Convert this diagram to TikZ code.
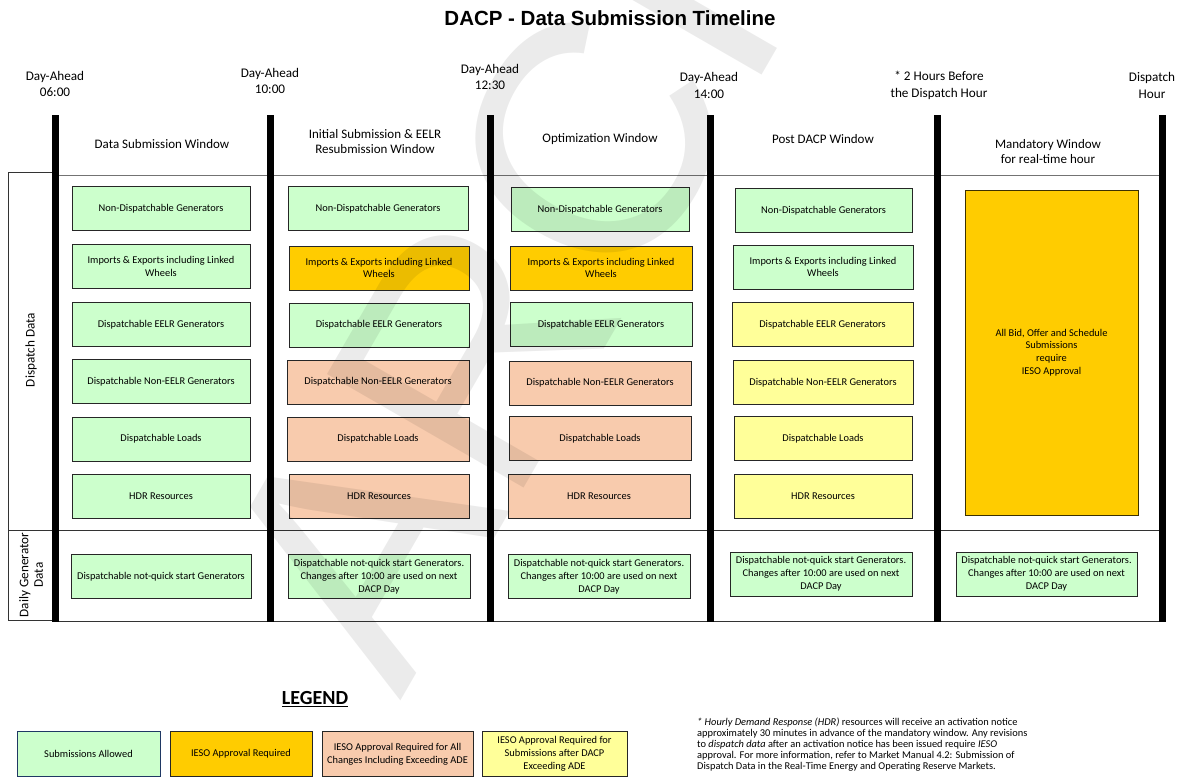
\documentclass[tikz,border=0pt]{standalone}
\usepackage{fontspec}
\setmainfont{Carlito}
\newfontfamily\arialfont{Liberation Sans}
\definecolor{gr}{HTML}{CCFFCC}
\definecolor{gold}{HTML}{FFCC00}
\definecolor{peach}{HTML}{F8CBAD}
\definecolor{lyel}{HTML}{FFFF99}
\definecolor{navy}{HTML}{1F3864}
\begin{document}
\begin{tikzpicture}[x=1pt,y=-1pt,
  bx/.style={draw=black!85, line width=0.7pt, align=center, inner sep=1pt,
    font=\fontsize{10.4}{12.8}\selectfont, minimum height=44pt},
  hd/.style={align=center, font=\fontsize{13.2}{16.5}\selectfont},
  wt/.style={align=center, font=\fontsize{13}{15}\selectfont},
  bar/.style={line width=7pt},
  thin/.style={line width=0.8pt, black!80}]
\useasboundingbox (0,0) rectangle (1179,780);
% title
\node[font=\arialfont\bfseries\fontsize{20.5}{24}\selectfont] (title) at (610,18) {DACP - Data Submission Timeline};
% time labels
\node[hd] (t1) at (55,84) {Day-Ahead\\06:00};
\node[hd] (t2) at (270,81) {Day-Ahead\\10:00};
\node[hd] (t3) at (490,77) {Day-Ahead\\12:30};
\node[hd] (t4) at (709,85.5) {Day-Ahead\\14:00};
\node[hd] (t5) at (939,85.5) {* 2 Hours Before\\the Dispatch Hour};
\node[hd] (t6) at (1152,85.5) {Dispatch\\Hour};
% window titles
\node[wt] (w1) at (162,144) {Data Submission Window};
\node[wt] (w2) at (375,141.5) {Initial Submission \& EELR\\Resubmission Window};
\node[wt] (w3) at (600,139) {Optimization Window};
\node[wt] (w4) at (823,139) {Post DACP Window};
\node[wt] (w5) at (1048,151.5) {Mandatory Window\\for real-time hour};
% frame lines
\draw[thin, black!55, line width=1pt] (55,175) -- (1162,175);
\draw[thin] (55,172.5) -- (8,172.5) -- (8,620.5) -- (55,620.5);
\draw[thin] (8,530) -- (1162,530);
\draw[thin] (55,621) -- (1162,621);
\foreach \xx in {55,270,490,710,937,1162} \draw[bar] (\xx,115) -- (\xx,622);
% side labels
\node[rotate=90, font=\fontsize{13.2}{15}\selectfont] (sd1) at (31,350) {Dispatch Data};
\node[rotate=90, align=center, font=\fontsize{13.2}{14.5}\selectfont] (sd2) at (31,575) {Daily Generator\\Data};
% column 1
\node[bx, fill=gr, minimum width=178pt] (a1) at (161,208.5) {Non-Dispatchable Generators};
\node[bx, fill=gr, minimum width=178pt] (a2) at (161,266.5) {Imports \& Exports including Linked\\Wheels};
\node[bx, fill=gr, minimum width=178pt] (a3) at (161,324.5) {Dispatchable EELR Generators};
\node[bx, fill=gr, minimum width=178pt] (a4) at (161,381.5) {Dispatchable Non-EELR Generators};
\node[bx, fill=gr, minimum width=178pt] (a5) at (161,439) {Dispatchable Loads};
\node[bx, fill=gr, minimum width=178pt] (a6) at (161,496) {HDR Resources};
\node[bx, fill=gr, minimum width=180pt] (a7) at (161,576.5) {Dispatchable not-quick start Generators};
% column 2
\node[bx, fill=gr, minimum width=180pt] (b1) at (378,208.5) {Non-Dispatchable Generators};
\node[bx, fill=gold, minimum width=180pt] (b2) at (379,268) {Imports \& Exports including Linked\\Wheels};
\node[bx, fill=gr, minimum width=180pt] (b3) at (379,325) {Dispatchable EELR Generators};
\node[bx, fill=peach, minimum width=182pt] (b4) at (378,382) {Dispatchable Non-EELR Generators};
\node[bx, fill=peach, minimum width=182pt] (b5) at (378,439) {Dispatchable Loads};
\node[bx, fill=peach, minimum width=180pt] (b6) at (379,496) {HDR Resources};
\node[bx, fill=gr, minimum width=182pt] (b7) at (379,576.5) {Dispatchable not-quick start Generators.\\Changes after 10:00 are used on next\\DACP Day};
% column 3
\node[bx, fill=gr, minimum width=178pt] (c1) at (600,209.5) {Non-Dispatchable Generators};
\node[bx, fill=gold, minimum width=182pt] (c2) at (601,268) {Imports \& Exports including Linked\\Wheels};
\node[bx, fill=gr, minimum width=182pt] (c3) at (601,324.5) {Dispatchable EELR Generators};
\node[bx, fill=peach, minimum width=182pt] (c4) at (600,383) {Dispatchable Non-EELR Generators};
\node[bx, fill=peach, minimum width=182pt] (c5) at (600,438.5) {Dispatchable Loads};
\node[bx, fill=peach, minimum width=182pt] (c6) at (599,496) {HDR Resources};
\node[bx, fill=gr, minimum width=182pt] (c7) at (599,576.5) {Dispatchable not-quick start Generators.\\Changes after 10:00 are used on next\\DACP Day};
% column 4
\node[bx, fill=gr, minimum width=177pt] (d1) at (823.5,210.5) {Non-Dispatchable Generators};
\node[bx, fill=gr, minimum width=180pt] (d2) at (823,267) {Imports \& Exports including Linked\\Wheels};
\node[bx, fill=lyel, minimum width=181pt] (d3) at (822.5,324.5) {Dispatchable EELR Generators};
\node[bx, fill=lyel, minimum width=180pt] (d4) at (823,382.5) {Dispatchable Non-EELR Generators};
\node[bx, fill=lyel, minimum width=178pt] (d5) at (823,438.5) {Dispatchable Loads};
\node[bx, fill=lyel, minimum width=178pt] (d6) at (823,496) {HDR Resources};
\node[bx, fill=gr, minimum width=182pt] (d7) at (821,574) {Dispatchable not-quick start Generators.\\Changes after 10:00 are used on next\\DACP Day};
% column 5
\node[bx, fill=gold, draw=black!60!gold!60!black, minimum width=173pt, minimum height=325pt] (e1) at (1051.5,352.5) {All Bid, Offer and Schedule\\Submissions\\require\\IESO Approval};
\node[bx, fill=gr, minimum width=181pt] (e7) at (1046.5,574) {Dispatchable not-quick start Generators.\\Changes after 10:00 are used on next\\DACP Day};
% legend
\node[font=\bfseries\fontsize{20}{22}\selectfont] (lg) at (315,699) {\underline{LEGEND}};
\node[bx, fill=gr, draw=navy, minimum width=143pt, minimum height=45pt] (l1) at (88.5,754) {Submissions Allowed};
\node[bx, fill=gold, minimum width=142pt, minimum height=45pt] (l2) at (241,754) {IESO Approval Required};
\node[bx, fill=peach, minimum width=151pt, minimum height=45pt] (l3) at (397.5,754) {IESO Approval Required for All\\Changes Including Exceeding ADE};
\node[bx, fill=lyel, minimum width=145pt, minimum height=45pt] (l4) at (554.5,754) {IESO Approval Required for\\Submissions after DACP\\Exceeding ADE};
% footnote
\node[anchor=north west, align=left, inner sep=0pt, font=\fontsize{10.4}{11}\selectfont] (fn) at (697,718)
{\textit{* Hourly Demand Response (HDR)} resources will receive an activation notice\\
approximately 30 minutes in advance of the mandatory window. Any revisions\\
to \textit{dispatch data} after an activation notice has been issued require \textit{IESO}\\
approval. For more information, refer to Market Manual 4.2: Submission of\\
Dispatch Data in the Real-Time Energy and Operating Reserve Markets.};
% watermark
\node[rotate=60, text=black, text opacity=0.08, anchor=base west, inner sep=0pt,
  font=\arialfont\fontsize{330}{330}\selectfont] (wm) at (400,702) {ARCHIVED};
\end{tikzpicture}
\end{document}
